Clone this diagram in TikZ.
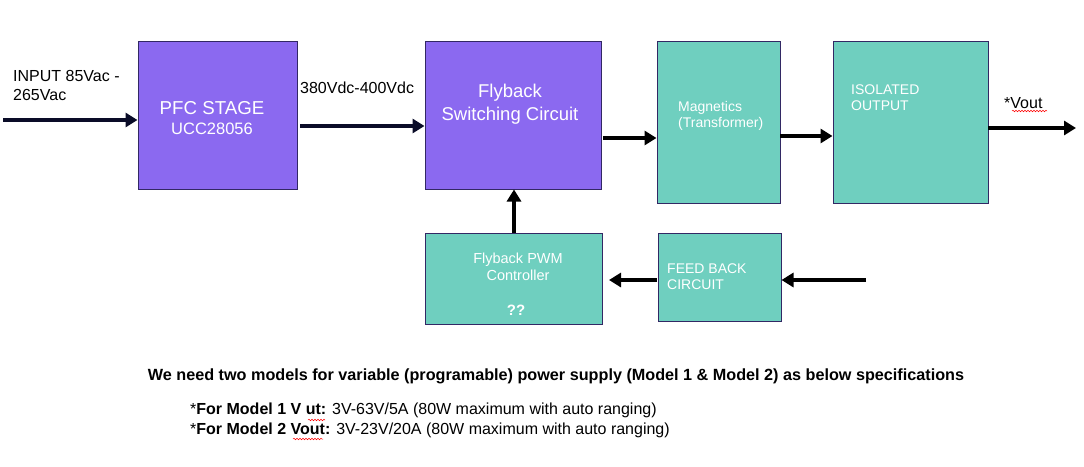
\documentclass[tikz,border=0pt]{standalone}
\usepackage{fontspec}
\setmainfont{Liberation Sans}
\usetikzlibrary{arrows.meta,decorations.pathmorphing}
\definecolor{purp}{RGB}{139,105,240}
\definecolor{teal2}{RGB}{111,207,191}
\definecolor{edge}{RGB}{50,40,100}
\definecolor{navy}{RGB}{10,12,40}
\newcommand{\fs}[1]{\fontsize{#1}{#1}\selectfont}
\tikzset{
  pbox/.style={draw=edge, line width=1pt, fill=purp, inner sep=0},
  tbox/.style={draw=edge, line width=1pt, fill=teal2, inner sep=0},
  wtxt/.style={text=white, inner sep=0, align=center},
  btxt/.style={text=black, inner sep=0, align=left},
  fat/.style={line width=4pt, -{Triangle[length=12pt,width=14pt]}},
  wavy/.style={draw=red, line width=0.5pt, decorate, decoration={snake, amplitude=0.8pt, segment length=3pt}}
}
\begin{document}
\begin{tikzpicture}[x=1pt,y=-1pt]
\useasboundingbox (0,0) rectangle (1084,466);
% boxes
\node[pbox, minimum width=159pt, minimum height=148pt] (pfc) at (217.5,115) {};
\node[pbox, minimum width=176pt, minimum height=148pt] (fly) at (513,115) {};
\node[tbox, minimum width=123pt, minimum height=162pt] (mag) at (718.5,122) {};
\node[tbox, minimum width=155pt, minimum height=162pt] (iso) at (910.5,122) {};
\node[tbox, minimum width=177pt, minimum height=91pt] (pwm) at (513.5,278.5) {};
\node[tbox, minimum width=123pt, minimum height=88pt] (fb) at (719.5,277) {};
% texts
\node[wtxt, font=\fs{18.7}] (pfct) at (212,108) {PFC STAGE};
\node[wtxt, font=\fs{16.5}] (pfcu) at (212,129) {UCC28056};
\node[wtxt, font=\fs{18.5}, align=center] (flyt) at (510,104) {Flyback\\[4pt]Switching Circuit};
\node[wtxt, font=\fs{14}, anchor=west, align=left] (magt) at (678,116) {Magnetics\\[2pt](Transformer)};
\node[wtxt, font=\fs{14}, anchor=west, align=left] (isot) at (851,98) {ISOLATED\\[2pt]OUTPUT};
\node[wtxt, font=\fs{14.5}, align=center] (pwmt) at (518,267) {Flyback PWM\\[2pt]Controller};
\node[wtxt, font=\bfseries\fs{15}] (pwmq) at (516,310) {??};
\node[wtxt, font=\fs{14}, anchor=west, align=left] (fbt) at (667,277) {FEED BACK\\[2pt]CIRCUIT};
\node[btxt, font=\fs{16}, anchor=west] (inp) at (13,85) {INPUT 85Vac -\\[3pt]265Vac};
\node[btxt, font=\fs{16}, anchor=west] (v380) at (300,88) {380Vdc-400Vdc};
\node[btxt, font=\fs{16}, anchor=west] (vout) at (1004,103) {*Vout};
\draw[wavy] (1012,111) -- (1047,111);
% connectors
\coordinate (inL) at (3,120);
\draw[fat, draw=navy, fill=navy] (inL) -- (inL -| pfc.west);
\coordinate (c380) at (300,126);
\draw[fat, draw=navy] (c380) -- (c380 -| fly.west);
\coordinate (c1) at (603,138);
\draw[fat] (c1) -- (c1 -| mag.west);
\coordinate (c2) at (780,136);
\draw[fat] (c2) -- (c2 -| iso.west);
\coordinate (c3) at (988,128);
\coordinate (voutend) at (1076,128);
\draw[fat] (c3) -- (voutend);
\coordinate (c4) at (514,233);
\draw[fat] (c4) -- (c4 |- fly.south);
\coordinate (c5) at (657,280);
\draw[fat] (c5) -- (609,280) coordinate (c5e);
\coordinate (fbin) at (866,280);
\draw[fat] (fbin) -- (fbin -| fb.east);
% bottom text
\node[btxt, font=\bfseries\fs{16.2}] (note) at (556,376) {We need two models for variable (programable) power supply (Model 1 \& Model 2) as below specifications};
\node[btxt, font=\fs{16}, anchor=west] (m1) at (190,410) {*\textbf{For Model 1 V ut:} 3V-63V/5A (80W maximum with auto ranging)};
\node[btxt, font=\fs{16}, anchor=west] (m2) at (190,430) {*\textbf{For Model 2 Vout:} 3V-23V/20A (80W maximum with auto ranging)};
\draw[wavy] (308,420) -- (325,420);
\draw[wavy] (293,439) -- (323,439);
\end{tikzpicture}
\end{document}
